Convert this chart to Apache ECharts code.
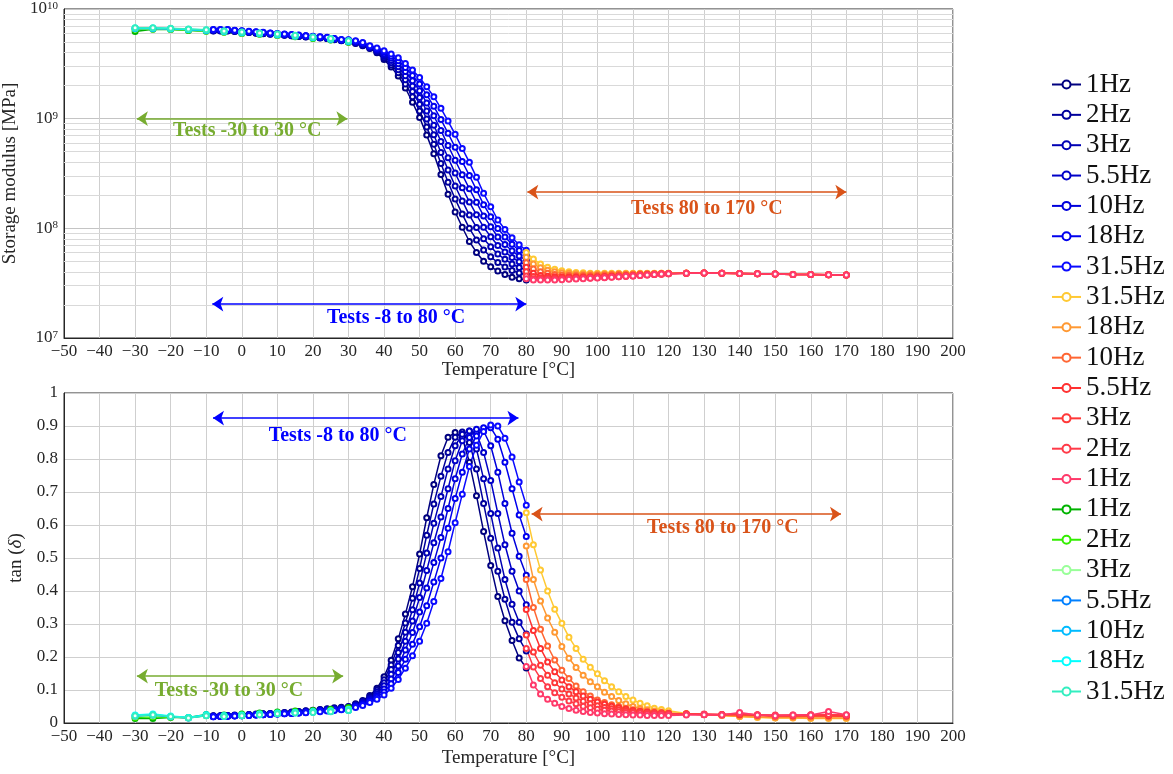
<!DOCTYPE html>
<html><head><meta charset="utf-8">
<script src="https://cdn.jsdelivr.net/npm/echarts@6/dist/echarts.min.js"></script>
<style>html,body{margin:0;padding:0;background:#fff}#c{width:1173px;height:774px}</style>
</head><body><div id="c"></div>
<script>
const FONT = 'Liberation Serif';

// ---------------- temperatures ----------------
const T_blue = [-8,-6,-4,-2,0,2,4,6,8,10,12,14,16,18,20,22,24,26,28,30,32,34,36,38,40,42,44,46,48,50,52,54,56,58,60,62,64,66,68,70,72,74,76,78,80];
const T_red = [80,82,84,86,88,90,92,94,96,98,100,102,104,106,108,110,112,114,116,118,120,125,130,135,140,145,150,155,160,165,170];
const T_green = [-30,-25,-20,-15,-10,-5,0,5,10,15,20,25,30];

// ---------------- storage modulus, log10 of MPa ----------------
const E_blue_1Hz   = [9.800,9.800,9.800,9.795,9.790,9.785,9.780,9.775,9.770,9.765,9.760,9.755,9.750,9.745,9.740,9.735,9.730,9.720,9.710, 9.700,9.685,9.665,9.640,9.600,9.540,9.470,9.390,9.280,9.150,9.010,8.850,8.680,8.490,8.310,8.150,8.010,7.880,7.780,7.700,7.650,7.610,7.580,7.555,7.540,7.530];
const E_blue_2Hz   = [9.802,9.802,9.802,9.797,9.792,9.787,9.782,9.777,9.772,9.767,9.762,9.757,9.752,9.747,9.742,9.737,9.732,9.722,9.712, 9.703,9.689,9.670,9.644,9.608,9.553,9.490,9.418,9.317,9.199,9.071,8.923,8.767,8.591,8.421,8.268,8.130,8.000,7.894,7.803,7.741,7.688,7.648,7.615,7.592,7.575];
const E_blue_3Hz   = [9.804,9.804,9.804,9.799,9.794,9.789,9.784,9.779,9.774,9.769,9.764,9.759,9.754,9.749,9.744,9.739,9.734,9.724,9.714, 9.707,9.693,9.675,9.648,9.615,9.567,9.510,9.445,9.355,9.248,9.132,8.997,8.853,8.691,8.533,8.386,8.250,8.121,8.008,7.906,7.832,7.765,7.717,7.675,7.643,7.620];
const E_blue_5_5Hz = [9.806,9.806,9.806,9.801,9.796,9.791,9.786,9.781,9.776,9.771,9.766,9.761,9.756,9.751,9.746,9.741,9.736,9.726,9.716, 9.710,9.698,9.680,9.653,9.623,9.580,9.530,9.473,9.392,9.297,9.193,9.070,8.940,8.792,8.644,8.504,8.370,8.241,8.123,8.010,7.924,7.843,7.785,7.735,7.695,7.665];
const E_blue_10Hz  = [9.808,9.808,9.808,9.803,9.798,9.793,9.788,9.783,9.778,9.773,9.768,9.763,9.758,9.753,9.748,9.743,9.738,9.728,9.718, 9.713,9.702,9.685,9.657,9.630,9.593,9.550,9.500,9.429,9.345,9.254,9.143,9.027,8.893,8.755,8.621,8.489,8.361,8.237,8.113,8.015,7.921,7.853,7.795,7.747,7.710];
const E_blue_18Hz  = [9.810,9.810,9.810,9.805,9.800,9.795,9.790,9.785,9.780,9.775,9.770,9.765,9.760,9.755,9.750,9.745,9.740,9.730,9.720, 9.717,9.706,9.690,9.661,9.638,9.607,9.570,9.528,9.467,9.394,9.315,9.217,9.113,8.993,8.867,8.739,8.609,8.482,8.351,8.216,8.106,7.998,7.922,7.855,7.798,7.755];
const E_blue_31_5Hz= [9.812,9.812,9.812,9.807,9.802,9.797,9.792,9.787,9.782,9.777,9.772,9.767,9.762,9.757,9.752,9.747,9.742,9.732,9.722, 9.720,9.710,9.695,9.665,9.645,9.620,9.590,9.555,9.504,9.443,9.376,9.290,9.200,9.094,8.978,8.857,8.729,8.602,8.465,8.319,8.197,8.076,7.990,7.915,7.850,7.800];

const E_red_31_5Hz = [7.780,7.720,7.675,7.645,7.626,7.614,7.605,7.598,7.594,7.591,7.590,7.590,7.590,7.590,7.590,7.590,7.590,7.590,7.590,7.590,7.590, 7.592,7.593,7.591,7.589,7.586,7.584,7.581,7.579,7.577,7.575];
const E_red_18Hz   = [7.736,7.675,7.640,7.618,7.605,7.596,7.590,7.586,7.584,7.583,7.583,7.583,7.584,7.585,7.586,7.587,7.588,7.589,7.589,7.590,7.590, 7.590,7.592,7.590,7.588,7.585,7.583,7.580,7.578,7.576,7.574];
const E_red_10Hz   = [7.687,7.630,7.605,7.590,7.580,7.575,7.572,7.571,7.571,7.571,7.572,7.574,7.576,7.578,7.580,7.582,7.584,7.586,7.587,7.588,7.589, 7.590,7.592,7.590,7.588,7.585,7.583,7.580,7.578,7.576,7.574];
const E_red_5_5Hz  = [7.645,7.590,7.570,7.562,7.558,7.556,7.556,7.556,7.557,7.557,7.558,7.560,7.563,7.566,7.568,7.571,7.575,7.578,7.581,7.584,7.588, 7.590,7.592,7.590,7.588,7.585,7.583,7.580,7.578,7.576,7.574];
const E_red_3Hz    = [7.605,7.560,7.550,7.547,7.546,7.546,7.547,7.548,7.549,7.550,7.552,7.555,7.558,7.561,7.564,7.568,7.572,7.576,7.580,7.584,7.587, 7.590,7.592,7.590,7.588,7.585,7.583,7.580,7.578,7.576,7.574];
const E_red_2Hz    = [7.565,7.540,7.537,7.537,7.538,7.540,7.541,7.543,7.545,7.547,7.550,7.553,7.556,7.559,7.563,7.566,7.570,7.574,7.578,7.582,7.586, 7.590,7.592,7.590,7.588,7.585,7.583,7.580,7.578,7.576,7.574];
const E_red_1Hz    = [7.540,7.530,7.528,7.528,7.530,7.532,7.535,7.538,7.541,7.544,7.547,7.550,7.554,7.558,7.562,7.566,7.570,7.575,7.579,7.583,7.586, 7.590,7.592,7.590,7.588,7.585,7.583,7.580,7.578,7.576,7.574];

const E_green_1Hz   = [9.795,9.815,9.812,9.805,9.797,9.787,9.777,9.769,9.759,9.747,9.732,9.717,9.697];
const E_green_2Hz   = [9.815,9.818,9.815,9.808,9.800,9.790,9.780,9.772,9.762,9.750,9.735,9.720,9.700];
const E_green_3Hz   = [9.820,9.820,9.817,9.810,9.802,9.792,9.782,9.774,9.764,9.752,9.737,9.722,9.702];
const E_green_5_5Hz = [9.822,9.822,9.819,9.812,9.804,9.794,9.784,9.776,9.766,9.754,9.739,9.724,9.704];
const E_green_10Hz  = [9.824,9.824,9.821,9.814,9.806,9.796,9.786,9.778,9.768,9.756,9.741,9.726,9.706];
const E_green_18Hz  = [9.826,9.826,9.823,9.816,9.808,9.798,9.788,9.780,9.770,9.758,9.743,9.728,9.708];
const E_green_31_5Hz= [9.828,9.828,9.825,9.818,9.810,9.800,9.790,9.782,9.772,9.760,9.745,9.730,9.710];

// ---------------- tan(delta) ----------------
const D_blue_1Hz   = [.022,.022,.023,.024,.025,.026,.027,.028,.029,.030,.032,.033,.035,.037,.039,.041,.043,.046,.048, .050,.058,.068,.083,.105,.140,.190,.255,.330,.413,.512,.622,.723,.810,.866,.880,.865,.790,.689,.580,.477,.383,.310,.250,.197,.167];
const D_blue_2Hz   = [.021,.022,.022,.023,.024,.025,.026,.027,.028,.029,.031,.032,.034,.036,.038,.040,.042,.044,.046, .049,.056,.066,.080,.100,.131,.176,.235,.303,.378,.468,.569,.664,.748,.820,.866,.882,.850,.770,.665,.560,.460,.375,.305,.255,.218];
const D_blue_3Hz   = [.021,.021,.022,.023,.024,.025,.026,.027,.028,.029,.030,.031,.033,.035,.037,.039,.041,.043,.045, .047,.054,.063,.076,.094,.122,.162,.214,.275,.343,.424,.515,.605,.686,.770,.840,.875,.885,.830,.740,.635,.530,.435,.360,.305,.270];
const D_blue_5_5Hz = [.020,.021,.022,.022,.023,.024,.025,.026,.027,.028,.029,.030,.032,.034,.036,.038,.040,.042,.044, .046,.053,.061,.073,.089,.113,.148,.194,.248,.309,.380,.462,.546,.624,.710,.795,.855,.885,.878,.820,.735,.635,.540,.460,.400,.358];
const D_blue_10Hz  = [.020,.020,.021,.022,.023,.024,.025,.026,.027,.028,.029,.030,.031,.033,.035,.037,.039,.041,.043, .045,.051,.058,.069,.083,.103,.133,.173,.221,.274,.336,.409,.486,.562,.650,.740,.815,.865,.890,.885,.840,.760,.665,.575,.505,.448];
const D_blue_18Hz  = [.019,.020,.021,.022,.022,.023,.024,.025,.026,.027,.028,.029,.030,.032,.034,.036,.038,.040,.041, .043,.049,.056,.066,.078,.094,.119,.153,.193,.239,.292,.355,.427,.500,.590,.680,.760,.830,.870,.895,.895,.860,.790,.710,.630,.565];
const D_blue_31_5Hz= [.019,.020,.020,.021,.022,.023,.024,.025,.026,.027,.028,.029,.030,.031,.033,.034,.036,.038,.040, .042,.047,.053,.062,.072,.085,.105,.132,.166,.204,.248,.302,.368,.438,.519,.607,.693,.777,.842,.883,.903,.900,.863,.806,.730,.660];

const D_red_31_5Hz = [.637,.540,.464,.400,.345,.302,.260,.226,.193,.169,.149,.128,.110,.095,.080,.070,.060,.052,.045,.041,.037, .029,.026,.023,.020,.017,.015,.015,.014,.014,.014];
const D_red_18Hz   = [.536,.435,.370,.318,.275,.232,.196,.168,.145,.125,.110,.093,.080,.068,.058,.050,.044,.040,.036,.033,.031, .027,.025,.023,.020,.018,.016,.016,.015,.015,.015];
const D_red_10Hz   = [.435,.350,.284,.233,.191,.160,.135,.112,.095,.082,.070,.062,.055,.050,.045,.040,.037,.034,.032,.030,.029, .027,.026,.025,.024,.022,.020,.020,.020,.020,.020];
const D_red_5_5Hz  = [.344,.280,.226,.185,.155,.130,.110,.095,.082,.072,.064,.057,.051,.046,.042,.038,.035,.033,.031,.030,.029, .027,.026,.025,.025,.024,.022,.022,.022,.022,.021];
const D_red_3Hz    = [.267,.215,.175,.145,.122,.103,.088,.076,.066,.058,.052,.047,.043,.040,.037,.034,.032,.031,.030,.029,.028, .027,.026,.026,.027,.024,.023,.023,.024,.025,.023];
const D_red_2Hz    = [.226,.170,.135,.110,.092,.078,.067,.058,.051,.046,.042,.039,.036,.034,.032,.031,.030,.029,.028,.028,.027, .027,.027,.026,.028,.025,.024,.024,.025,.026,.024];
const D_red_1Hz    = [.171,.115,.088,.072,.060,.050,.044,.039,.035,.032,.030,.028,.027,.026,.025,.024,.024,.023,.023,.023,.023, .024,.025,.024,.032,.024,.022,.024,.024,.035,.025];

const D_green_1Hz   = [.014,.014,.017,.017,.026,.024,.027,.030,.033,.036,.038,.042,.047];
const D_green_2Hz   = [.017,.019,.018,.016,.023,.022,.025,.028,.031,.034,.036,.039,.044];
const D_green_3Hz   = [.020,.022,.019,.016,.022,.021,.023,.026,.029,.032,.034,.036,.041];
const D_green_5_5Hz = [.021,.024,.019,.015,.023,.020,.022,.025,.028,.031,.033,.035,.039];
const D_green_10Hz  = [.023,.026,.020,.016,.024,.021,.023,.026,.029,.031,.033,.035,.039];
const D_green_18Hz  = [.024,.027,.021,.017,.025,.022,.024,.027,.030,.032,.034,.036,.040];
const D_green_31_5Hz= [.022,.025,.020,.015,.022,.020,.022,.025,.028,.030,.032,.034,.038];

// ---------------- labels / styles ----------------
const names_blue  = ['1Hz','2Hz','3Hz','5.5Hz','10Hz','18Hz','31.5Hz'];
const names_red   = ['31.5Hz','18Hz','10Hz','5.5Hz','3Hz','2Hz','1Hz'];
const names_green = ['1Hz','2Hz','3Hz','5.5Hz','10Hz','18Hz','31.5Hz'];
const colors_blue  = ['#00007f','#00009c','#0000b4','#0000c8','#0000dc','#0000ee','#0a0aff'];
const colors_red   = ['#ffc933','#ff9933','#ff6633','#ff3030','#ff3838','#ff3a48','#ff3a6a'];
const colors_green = ['#00b300','#33ee00','#99ff99','#0080ff','#00bbff','#00ffff','#33eec0'];
const xTickLabelsMinus = '\u2212';
const logMinorGrid = [2e7,3e7,4e7,5e7,6e7,7e7,8e7,9e7,2e8,3e8,4e8,5e8,6e8,7e8,8e8,9e8,2e9,3e9,4e9,5e9,6e9,7e9,8e9,9e9];

const C_GREEN = '#77ac30', C_ORANGE = '#d95319', C_BLUE = '#0000ff';
// arrows [x1, x2, y] and text [x, y, text]
const arrowsTop = [[-29.5, 29.7, 1e9, C_GREEN], [-8.3, 80, 2.04e7, C_BLUE], [80.3, 170, 2.14e8, C_ORANGE]];
const textsTop  = [[1.5, 7.7e8, 'Tests -30 to 30 °C', C_GREEN], [43.4, 1.52e7, 'Tests -8 to 80 °C', C_BLUE], [130.8, 1.5e8, 'Tests 80 to 170 °C', C_ORANGE]];
const arrowsBot = [[-29.5, 28.5, 0.142, C_GREEN], [-8.1, 77.8, 0.924, C_BLUE], [81.5, 168.5, 0.633, C_ORANGE]];
const textsBot  = [[-3.6, 0.097, 'Tests -30 to 30 °C', C_GREEN], [27, 0.87, 'Tests -8 to 80 °C', C_BLUE], [135.3, 0.591, 'Tests 80 to 170 °C', C_ORANGE]];

const groups = [
  {T: T_blue, names: names_blue, colors: colors_blue, suffix: '',
   E: [E_blue_1Hz,E_blue_2Hz,E_blue_3Hz,E_blue_5_5Hz,E_blue_10Hz,E_blue_18Hz,E_blue_31_5Hz],
   D: [D_blue_1Hz,D_blue_2Hz,D_blue_3Hz,D_blue_5_5Hz,D_blue_10Hz,D_blue_18Hz,D_blue_31_5Hz]},
  {T: T_red, names: names_red, colors: colors_red, suffix: '\u200b',
   E: [E_red_31_5Hz,E_red_18Hz,E_red_10Hz,E_red_5_5Hz,E_red_3Hz,E_red_2Hz,E_red_1Hz],
   D: [D_red_31_5Hz,D_red_18Hz,D_red_10Hz,D_red_5_5Hz,D_red_3Hz,D_red_2Hz,D_red_1Hz]},
  {T: T_green, names: names_green, colors: colors_green, suffix: '\u200b\u200b',
   E: [E_green_1Hz,E_green_2Hz,E_green_3Hz,E_green_5_5Hz,E_green_10Hz,E_green_18Hz,E_green_31_5Hz],
   D: [D_green_1Hz,D_green_2Hz,D_green_3Hz,D_green_5_5Hz,D_green_10Hz,D_green_18Hz,D_green_31_5Hz]}
];

function mkSeries(name, color, T, vals, ax, isLog) {
  return {
    type: 'line', name, xAxisIndex: ax, yAxisIndex: ax,
    data: T.map((t, i) => [t, isLog ? Math.pow(10, vals[i]) : vals[i]]),
    symbol: 'emptyCircle', symbolSize: 5, showAllSymbol: true,
    lineStyle: {width: 1.5, color}, itemStyle: {color, borderWidth: 1.4},
    emphasis: {disabled: true}, z: 3
  };
}

const series = [];
const legendNames = [];
groups.forEach(g => {
  g.names.forEach((n, k) => {
    const nm = n + g.suffix;
    legendNames.push(nm);
    series.push(mkSeries(nm, g.colors[k], g.T, g.E[k], 0, true));
    series.push(mkSeries(nm, g.colors[k], g.T, g.D[k], 1, false));
  });
});

function arrowLines(arr) {
  return arr.map(a => [{coord: [a[0], a[2]], lineStyle: {color: a[3], width: 1.6, type: 'solid'}, itemStyle: {color: a[3]}}, {coord: [a[1], a[2]]}]);
}
function textPoints(arr) {
  return arr.map(a => ({coord: [a[0], a[1]], name: a[2], label: {color: a[3]}}));
}
const markTextCommon = {
  symbol: 'circle', symbolSize: 1, itemStyle: {color: 'rgba(0,0,0,0)'}, silent: true,
  label: {show: true, position: 'inside', formatter: p => p.name, fontFamily: FONT, fontWeight: 'bold', fontSize: 20}
};
const markArrowCommon = {symbol: ['arrow', 'arrow'], symbolSize: 11, silent: true, label: {show: false}};

series[0].markLine = Object.assign({data: arrowLines(arrowsTop)}, markArrowCommon);
series[0].markPoint = Object.assign({data: textPoints(textsTop)}, markTextCommon);
series[1].markLine = Object.assign({data: arrowLines(arrowsBot)}, markArrowCommon);
series[1].markPoint = Object.assign({data: textPoints(textsBot)}, markTextCommon);
series[2].markLine = {silent: true, symbol: 'none', z: 1, label: {show: false},
  lineStyle: {type: 'solid', color: '#d9d9d9', width: 1},
  data: logMinorGrid.map(v => ({yAxis: v}))};

const axisTxt = {fontFamily: FONT, fontSize: 17, color: '#262626'};
function xAxisCfg(idx, gap) {
  return {
    type: 'value', gridIndex: idx, min: -50, max: 200, interval: 10,
    name: 'Temperature [°C]', nameLocation: 'middle', nameGap: gap,
    nameTextStyle: {fontFamily: FONT, fontSize: 19, color: '#262626'},
    axisLine: {show: true, onZero: false, lineStyle: {color: '#262626'}},
    axisTick: {show: false},
    axisLabel: Object.assign({margin: 5, formatter: v => String(v).replace('-', xTickLabelsMinus)}, axisTxt),
    splitLine: {show: true, lineStyle: {color: '#cfcfcf'}}
  };
}

const option = {
  animation: false,
  backgroundColor: '#ffffff',
  grid: [
    {left: 64, top: 9, width: 889, height: 329, show: true, borderColor: '#262626', borderWidth: 1, backgroundColor: 'transparent', containLabel: false, outerBoundsMode: 'none'},
    {left: 64, top: 393, width: 889, height: 330, show: true, borderColor: '#262626', borderWidth: 1, backgroundColor: 'transparent', containLabel: false, outerBoundsMode: 'none'}
  ],
  xAxis: [xAxisCfg(0, 21), xAxisCfg(1, 26)],
  yAxis: [
    {type: 'log', gridIndex: 0, min: 1e7, max: 1e10, logBase: 10,
     name: 'Storage modulus [MPa]', nameLocation: 'middle', nameGap: 38, nameRotate: 90,
     nameTextStyle: {fontFamily: FONT, fontSize: 19, color: '#262626'},
     axisLine: {show: true, onZero: false, lineStyle: {color: '#262626'}}, axisTick: {show: false},
     axisLabel: {margin: 6, formatter: v => '{b|10}{s|' + Math.round(Math.log10(v)) + '}',
       rich: {b: {fontFamily: FONT, fontSize: 17, color: '#262626'},
              s: {fontFamily: FONT, fontSize: 11, color: '#262626', verticalAlign: 'top'}}},
     splitLine: {show: true, lineStyle: {color: '#c4c4c4'}}},
    {type: 'value', gridIndex: 1, min: 0, max: 1, interval: 0.1,
     name: 'tan ({i|δ})', nameLocation: 'middle', nameGap: 38, nameRotate: 90,
     nameTextStyle: {fontFamily: FONT, fontSize: 19, color: '#262626',
       rich: {i: {fontFamily: FONT, fontSize: 19, fontStyle: 'italic', color: '#262626'}}},
     axisLine: {show: true, onZero: false, lineStyle: {color: '#262626'}}, axisTick: {show: false},
     axisLabel: Object.assign({margin: 6, formatter: v => (v === 0 ? '0' : v === 1 ? '1' : v.toFixed(1))}, axisTxt),
     splitLine: {show: true, lineStyle: {color: '#cfcfcf'}}}
  ],
  legend: {
    orient: 'vertical', left: 1046, top: 66, itemGap: 3.35, itemWidth: 29, itemHeight: 10,
    selectedMode: false, data: legendNames,
    formatter: n => n.replace(/\u200b/g, ''),
    textStyle: {fontFamily: FONT, fontSize: 27, color: '#111', lineHeight: 26, padding: [0, 0, 0, 0]}
  },
  series
};

const chart = echarts.init(document.getElementById('c'), null, {renderer: 'canvas'});
chart.setOption(option);
</script>
</body></html>
